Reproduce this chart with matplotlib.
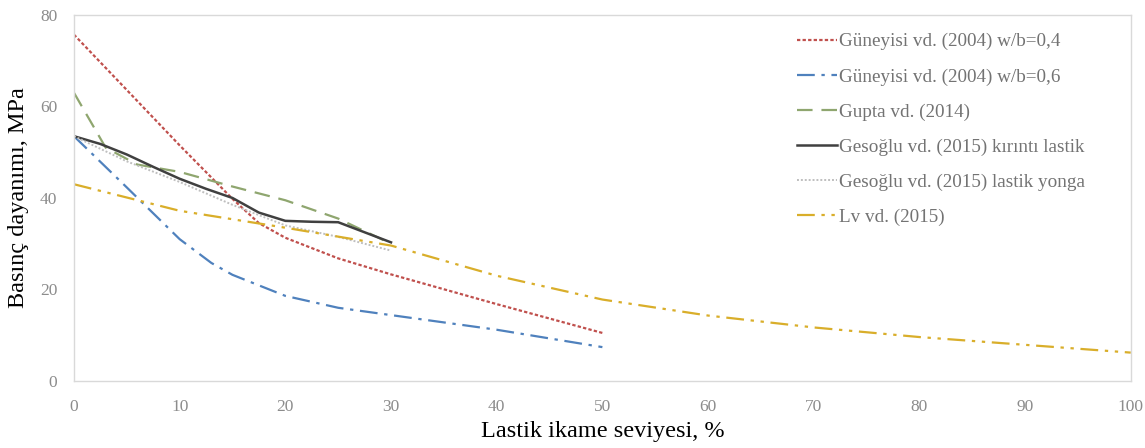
import matplotlib.pyplot as plt

plt.rcParams["font.family"] = ["Liberation Serif", "DejaVu Serif"]

# Güneyisi vd. (2004) w/b=0,4
gun04_x = [0, 5, 10, 15, 17.5, 20, 25, 30, 40, 50]
gun04_y = [75.7, 63.6, 51.5, 39.8, 34.5, 31.3, 26.8, 23.3, 16.8, 10.5]
# Güneyisi vd. (2004) w/b=0,6
gun06_x = [0, 5, 10, 13, 15, 20, 25, 30, 40, 50]
gun06_y = [53.5, 42.3, 31, 25.8, 23.2, 18.6, 16, 14.4, 11.2, 7.4]
# Gupta vd. (2014)
gup_x = [0, 3, 6, 10, 15, 20, 25, 30]
gup_y = [63, 51, 47.3, 45.7, 42.5, 39.5, 35.5, 30]
# Gesoğlu vd. (2015) kırıntı lastik
gk_x = [0, 2.5, 5, 7.5, 10, 12.5, 15, 17.5, 20, 22.5, 25, 27.5, 30]
gk_y = [53.5, 51.8, 49.5, 46.8, 44.2, 42, 40, 36.8, 35, 34.8, 34.7, 32.5, 30.3]
# Gesoğlu vd. (2015) lastik yonga
gy_x = [0, 5, 10, 15, 20, 25, 30]
gy_y = [53.5, 48, 43.5, 38.5, 34, 31.5, 28.5]
# Lv vd. (2015)
lv_x = [0, 10, 20, 30, 40, 50, 60, 70, 80, 90, 100]
lv_y = [43, 37.2, 33.5, 29.6, 23, 17.8, 14.3, 11.7, 9.6, 7.9, 6.2]

fig = plt.figure(figsize=(11.45, 4.48), dpi=100)
ax = fig.add_axes([0.0646, 0.1496, 0.923, 0.817])

ax.plot(gun04_x, gun04_y, color="#C0504D", ls=(0, (1.5, 1)), lw=1.6,
        label="Güneyisi vd. (2004) w/b=0,4")
ax.plot(gun06_x, gun06_y, color="#4F81BD", ls=(0, (8, 3, 1.5, 3)), lw=1.6,
        label="Güneyisi vd. (2004) w/b=0,6")
ax.plot(gup_x, gup_y, color="#8FA66F", ls=(0, (7, 4)), lw=1.6,
        label="Gupta vd. (2014)")
ax.plot(gk_x, gk_y, color="#404040", ls="-", lw=1.8,
        label="Gesoğlu vd. (2015) kırıntı lastik")
ax.plot(gy_x, gy_y, color="#BFBFBF", ls=(0, (1, 1)), lw=1.4,
        label="Gesoğlu vd. (2015) lastik yonga")
ax.plot(lv_x, lv_y, color="#D9AE2A", ls=(0, (8, 3, 1.5, 3, 1.5, 3)), lw=1.6,
        label="Lv vd. (2015)")

ax.set_xlim(0, 100)
ax.set_ylim(0, 80)
ax.set_xticks(range(0, 101, 10))
ax.set_yticks(range(0, 81, 20))
ax.tick_params(length=0, labelsize=12.5, labelcolor="#8C8C8C")
ax.tick_params(axis="x", pad=13)
ax.tick_params(axis="y", pad=12)
for s in ax.spines.values():
    s.set_color("#D9D9D9")
    s.set_linewidth(1)

ax.set_xlabel("Lastik ikame seviyesi, %", fontsize=17.5, labelpad=4)
ax.set_ylabel("Basınç dayanımı, MPa", fontsize=17.5, labelpad=8)

leg = ax.legend(loc="upper left", bbox_to_anchor=(797 / 1145, 1 - 33 / 448),
                bbox_transform=fig.transFigure, fontsize=13.8, frameon=False,
                handlelength=2.1, handletextpad=0.1, labelspacing=0.92,
                borderpad=0, borderaxespad=0)
for t in leg.get_texts():
    t.set_color("#737373")

fig.savefig("out.png", dpi=100)
